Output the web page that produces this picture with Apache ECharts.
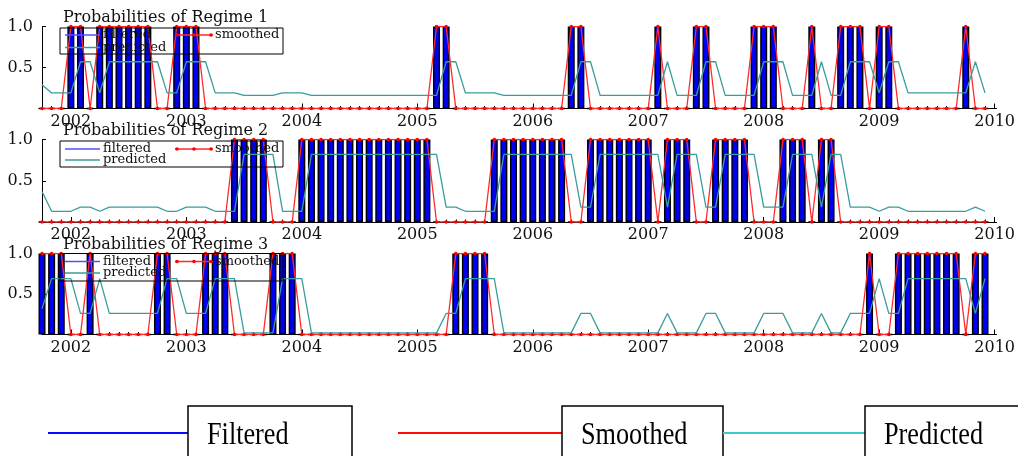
<!DOCTYPE html>
<html>
<head>
<meta charset="utf-8">
<script src="https://cdn.jsdelivr.net/npm/echarts@6/dist/echarts.min.js"></script>
<style>
  html, body { margin: 0; padding: 0; background: #fff; }
  #main { width: 1018px; height: 456px; }
</style>
</head>
<body>
<div id="main"></div>
<script>
// monthly, 2001(10) .. 2009(12); x = month index
var yearTicks = [3, 15, 27, 39, 51, 63, 75, 87, 99];
var yearLabels = ['2002', '2003', '2004', '2005', '2006', '2007', '2008', '2009', '2010'];

var filtered1 = [0,0,0,1,1,0,1,1,1,1, 1,1,0,0,1,1,1,0,0,0, 0,0,0,0,0,0,0,0,0,0, 0,0,0,0,0,0,0,0,0,0,
    0,1,1,0,0,0,0,0,0,0, 0,0,0,0,0,1,1,0,0,0, 0,0,0,0,1,0,0,0,1,1, 0,0,0,0,1,1,1,0,0,0,
    1,0,0,1,1,1,0,1,1,0, 0,0,0,0,0,0,1,0,0];
var smoothed1 = [0,0,0,1,1,0,1,1,1,1, 1,1,0,0,1,1,1,0,0,0, 0,0,0,0,0,0,0,0,0,0, 0,0,0,0,0,0,0,0,0,0,
    0,1,1,0,0,0,0,0,0,0, 0,0,0,0,0,1,1,0,0,0, 0,0,0,0,1,0,0,0,1,1, 0,0,0,0,1,1,1,0,0,0,
    1,0,0,1,1,1,0,1,1,0, 0,0,0,0,0,0,1,0,0];
var predicted1 = [.29,.19,.19,.19,.57,.57,.19,.57,.57,.57, .57,.57,.57,.19,.19,.57,.57,.57,.19,.19,
    .19,.16,.16,.16,.16,.19,.19,.19,.16,.16, .16,.16,.16,.16,.16,.16,.16,.16,.16,.16,
    .16,.16,.57,.57,.19,.19,.19,.19,.16,.16, .16,.16,.16,.16,.16,.16,.57,.57,.16,.16,
    .16,.16,.16,.16,.16,.57,.16,.16,.16,.57, .57,.16,.16,.16,.16,.57,.57,.57,.16,.16,
    .16,.57,.16,.16,.57,.57,.57,.19,.57,.57, .19,.19,.19,.19,.19,.19,.19,.57,.19];

var filtered2 = [0,0,0,0,0,0,0,0,0,0, 0,0,0,0,0,0,0,0,0,0, 1,1,1,1,0,0,0,1,1,1, 1,1,1,1,1,1,1,1,1,1,
    1,0,0,0,0,0,0,1,1,1, 1,1,1,1,1,0,0,1,1,1, 1,1,1,1,0,1,1,1,0,0, 1,1,1,1,0,0,0,1,1,1,
    0,1,1,0,0,0,0,0,0,0, 0,0,0,0,0,0,0,0,0];
var smoothed2 = [0,0,0,0,0,0,0,0,0,0, 0,0,0,0,0,0,0,0,0,0, 1,1,1,1,0,0,0,1,1,1, 1,1,1,1,1,1,1,1,1,1,
    1,0,0,0,0,0,0,1,1,1, 1,1,1,1,1,0,0,1,1,1, 1,1,1,1,0,1,1,1,0,0, 1,1,1,1,0,0,0,1,1,1,
    0,1,1,0,0,0,0,0,0,0, 0,0,0,0,0,0,0,0,0];
var predicted2 = [.37,.13,.13,.13,.18,.18,.13,.18,.18,.18, .18,.18,.18,.13,.13,.18,.18,.18,.13,.13,
    .13,.82,.82,.82,.82,.13,.13,.13,.82,.82, .82,.82,.82,.82,.82,.82,.82,.82,.82,.82,
    .82,.82,.18,.18,.13,.13,.13,.13,.82,.82, .82,.82,.82,.82,.82,.82,.18,.18,.82,.82,
    .82,.82,.82,.82,.82,.18,.82,.82,.82,.18, .18,.82,.82,.82,.82,.18,.18,.18,.82,.82,
    .82,.18,.82,.82,.18,.18,.18,.13,.18,.18, .13,.13,.13,.13,.13,.13,.13,.18,.13];

var filtered3 = [1,1,1,0,0,1,0,0,0,0, 0,0,1,1,0,0,0,1,1,1, 0,0,0,0,1,1,1,0,0,0, 0,0,0,0,0,0,0,0,0,0,
    0,0,0,1,1,1,1,0,0,0, 0,0,0,0,0,0,0,0,0,0, 0,0,0,0,0,0,0,0,0,0, 0,0,0,0,0,0,0,0,0,0,
    0,0,0,0,0,0,1,0,0,1, 1,1,1,1,1,1,0,1,1];
var smoothed3 = [1,1,1,0,0,1,0,0,0,0, 0,0,1,1,0,0,0,1,1,1, 0,0,0,0,1,1,1,0,0,0, 0,0,0,0,0,0,0,0,0,0,
    0,0,0,1,1,1,1,0,0,0, 0,0,0,0,0,0,0,0,0,0, 0,0,0,0,0,0,0,0,0,0, 0,0,0,0,0,0,0,0,0,0,
    0,0,0,0,0,0,1,0,0,1, 1,1,1,1,1,1,0,1,1];
var predicted3 = [.32,.69,.69,.69,.26,.26,.69,.26,.26,.26, .26,.26,.26,.69,.69,.26,.26,.26,.69,.69,
    .69,.02,.02,.02,.02,.69,.69,.69,.02,.02, .02,.02,.02,.02,.02,.02,.02,.02,.02,.02,
    .02,.02,.26,.26,.69,.69,.69,.69,.02,.02, .02,.02,.02,.02,.02,.02,.26,.26,.02,.02,
    .02,.02,.02,.02,.02,.26,.02,.02,.02,.26, .26,.02,.02,.02,.02,.26,.26,.26,.02,.02,
    .02,.26,.02,.02,.26,.26,.26,.69,.26,.26, .69,.69,.69,.69,.69,.69,.69,.26,.69];

var panels = [
    { title: 'Probabilities of Regime 1', f: filtered1, s: smoothed1, p: predicted1 },
    { title: 'Probabilities of Regime 2', f: filtered2, s: smoothed2, p: predicted2 },
    { title: 'Probabilities of Regime 3', f: filtered3, s: smoothed3, p: predicted3 }
];

var serif = 'DejaVu Serif';
var gridTops = [26.5, 139.5, 253.5];
var gridHeights = [82, 82.5, 81];
var titleTops = [10, 123, 237];
var legendBoxes = [
    { y: 28, h: 26, r1: 35, r2: 47.5 },
    { y: 141, h: 26, r1: 149, r2: 160 },
    { y: 253.5, h: 27.5, r1: 261.5, r2: 273 }
];

function pairs(arr) {
    return arr.map(function (v, i) { return [i, v]; });
}
var monthTicks = [];
for (var m = 0; m <= 99; m++) monthTicks.push(m);

var grid = [], xAxis = [], yAxis = [], title = [], series = [], graphic = [];

panels.forEach(function (pn, k) {
    grid.push({ left: 42, right: 21, top: gridTops[k], height: gridHeights[k] });
    title.push({
        text: pn.title, left: 63, top: titleTops[k], padding: 0,
        textStyle: { fontFamily: serif, fontSize: 16, fontWeight: 'normal', color: '#111' }
    });
    xAxis.push({
        type: 'value', gridIndex: k, min: 0, max: 99.2, position: 'bottom',
        axisLine: { show: true, lineStyle: { color: '#000', width: 1 } },
        axisTick: { show: true, inside: true, length: 5, customValues: yearTicks, lineStyle: { color: '#000' } },
        axisLabel: {
            customValues: yearTicks, margin: 5, color: '#111',
            fontFamily: serif, fontSize: 16,
            formatter: function (v) { return yearLabels[yearTicks.indexOf(Math.round(v))]; }
        },
        splitLine: { show: false }
    });
    yAxis.push({
        type: 'value', gridIndex: k, min: 0, max: 1, interval: 0.5,
        axisLine: { show: true, lineStyle: { color: '#000', width: 1 } },
        axisTick: { show: true, inside: true, length: 4, lineStyle: { color: '#000' } },
        axisLabel: {
            margin: 9, color: '#111', fontFamily: serif, fontSize: 16,
            formatter: function (v) { return v === 0 ? '' : v.toFixed(1); }
        },
        splitLine: { show: false }
    });

    series.push({
        name: 'filtered', type: 'bar', xAxisIndex: k, yAxisIndex: k,
        data: pairs(pn.f), barWidth: 7,
        itemStyle: { color: '#0000f0', borderColor: '#000', borderWidth: 1.4 },
        z: 2
    });
    series.push({
        name: 'smoothed', type: 'line', xAxisIndex: k, yAxisIndex: k,
        data: pairs(pn.s), symbol: 'circle', symbolSize: 3.5, showAllSymbol: true,
        lineStyle: { color: '#ff2a2a', width: 1.3 },
        itemStyle: { color: '#ff0000' },
        z: 3
    });
    series.push({
        name: 'predicted', type: 'line', xAxisIndex: k, yAxisIndex: k,
        data: pairs(pn.p), symbol: 'none',
        lineStyle: { color: '#3a9c9c', width: 1.3 },
        z: 4
    });

    // panel legend
    var b = legendBoxes[k];
    graphic.push({ type: 'rect', shape: { x: 60, y: b.y, width: 223, height: b.h },
        style: { fill: null, stroke: '#000', lineWidth: 1 }, z: 100 });
    graphic.push({ type: 'line', shape: { x1: 65, y1: b.r1, x2: 100, y2: b.r1 },
        style: { stroke: '#5050ff', lineWidth: 1.5 }, z: 100 });
    graphic.push({ type: 'text', x: 103, y: b.r1, z: 100,
        style: { text: 'filtered', font: '13px "DejaVu Serif"', fill: '#111', verticalAlign: 'middle' } });
    graphic.push({ type: 'line', shape: { x1: 175, y1: b.r1, x2: 213, y2: b.r1 },
        style: { stroke: '#ff2a2a', lineWidth: 1.3 }, z: 100 });
    [177, 194, 211].forEach(function (cx) {
        graphic.push({ type: 'circle', shape: { cx: cx, cy: b.r1, r: 1.8 }, style: { fill: '#ff0000' }, z: 100 });
    });
    graphic.push({ type: 'text', x: 215, y: b.r1, z: 100,
        style: { text: 'smoothed', font: '13px "DejaVu Serif"', fill: '#111', verticalAlign: 'middle' } });
    graphic.push({ type: 'line', shape: { x1: 65, y1: b.r2, x2: 100, y2: b.r2 },
        style: { stroke: '#3a9c9c', lineWidth: 1.3 }, z: 100 });
    graphic.push({ type: 'text', x: 103, y: b.r2, z: 100,
        style: { text: 'predicted', font: '13px "DejaVu Serif"', fill: '#111', verticalAlign: 'middle' } });
});

// monthly minor ticks on the bottom axis
panels.forEach(function (pn, k) {
    xAxis.push({
        type: 'value', gridIndex: k, min: 0, max: 99.2, position: 'bottom',
        axisLine: { show: false },
        axisTick: { show: true, inside: true, length: 2.5, customValues: monthTicks, lineStyle: { color: '#000' } },
        axisLabel: { show: false },
        splitLine: { show: false }
    });
});

// bottom key
var keys = [
    { text: 'Filtered', color: '#0a0aff', x1: 48, x2: 188, boxR: 352 },
    { text: 'Smoothed', color: '#ff0a0a', x1: 398, x2: 562, boxR: 723 },
    { text: 'Predicted', color: '#3fcaca', x1: 723, x2: 865, boxR: 1040 }
];
keys.forEach(function (kk) {
    graphic.push({ type: 'line', shape: { x1: kk.x1, y1: 433, x2: kk.x2, y2: 433 },
        style: { stroke: kk.color, lineWidth: 2 }, z: 100 });
    graphic.push({ type: 'rect', shape: { x: kk.x2, y: 406, width: kk.boxR - kk.x2, height: 80 },
        style: { fill: null, stroke: '#000', lineWidth: 1.5 }, z: 100 });
    graphic.push({ type: 'text', x: kk.x2 + 19, y: 436, scaleX: 0.82, z: 100,
        style: { text: kk.text, font: '32px "Liberation Serif"', fill: '#000', verticalAlign: 'middle' } });
});

var myChart = echarts.init(document.getElementById('main'));
myChart.setOption({
    animation: false,
    title: title,
    grid: grid,
    xAxis: xAxis,
    yAxis: yAxis,
    series: series,
    graphic: graphic
});
</script>
</body>
</html>
